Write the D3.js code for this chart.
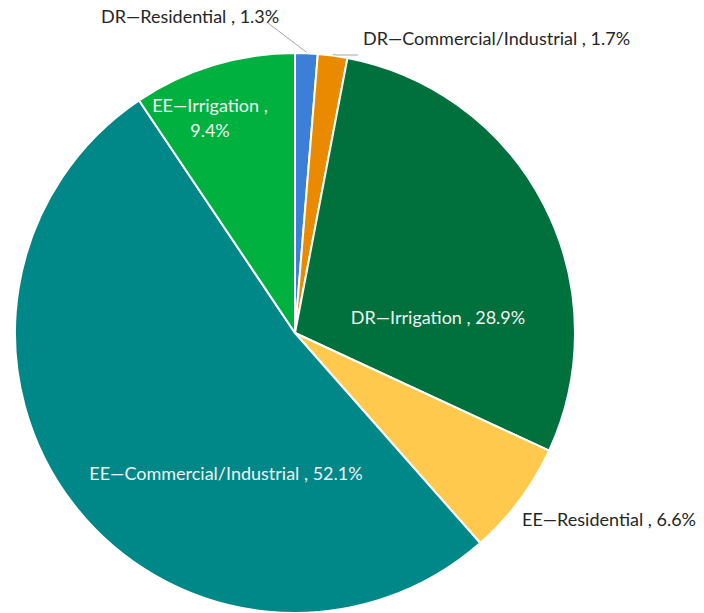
<!DOCTYPE html>
<html>
<head>
<meta charset="utf-8">
<script src="https://cdn.jsdelivr.net/npm/d3@7"></script>
<style>
  body { margin: 0; background: #fff; }
  svg { display: block; font-family: Lato, "Open Sans", sans-serif; }
</style>
</head>
<body>
<div id="chart"></div>
<script>
let width = 704, height = 613;

// data
const categories = [
  "DR\u2014Residential",
  "DR\u2014Commercial/Industrial",
  "DR\u2014Irrigation",
  "EE\u2014Residential",
  "EE\u2014Commercial/Industrial",
  "EE\u2014Irrigation",
];
const shares = [1.3, 1.7, 28.9, 6.6, 52.1, 9.4];
const colors = ["#3d7ed9", "#ea8a00", "#00703c", "#fec94c", "#008788", "#00b140"];

// label layout (x, y of text centre, anchor, text colour, wrap)
const labelLayout = [
  { x: 101, y: 17, anchor: "start", fill: "#262626", lines: 1 },
  { x: 363, y: 39, anchor: "start", fill: "#262626", lines: 1 },
  { x: 438, y: 318, anchor: "middle", fill: "#f2f2f2", lines: 1 },
  { x: 522, y: 520, anchor: "start", fill: "#262626", lines: 1 },
  { x: 226, y: 474, anchor: "middle", fill: "#f2f2f2", lines: 1 },
  { x: 210, y: 118, anchor: "middle", fill: "#f2f2f2", lines: 2 },
];

const cx = 295, cy = 333, radius = 280;

const data = categories.map((c, i) => ({ name: c, value: shares[i], color: colors[i] }));

const svg = d3
  .select("#chart")
  .append("svg")
  .attr("width", width)
  .attr("height", height);

const pie = d3.pie().sort(null).value((d) => d.value);
const arc = d3.arc().innerRadius(0).outerRadius(radius);
const arcs = pie(data);

const g = svg.append("g").attr("transform", `translate(${cx},${cy})`);

g.selectAll("path")
  .data(arcs)
  .join("path")
  .attr("d", arc)
  .attr("fill", (d) => d.data.color)
  .attr("stroke", "#fff")
  .attr("stroke-width", 2)
  .attr("stroke-linejoin", "round");

// leader lines for the two thin slices
const leaderArc = d3.arc().innerRadius(radius + 1).outerRadius(radius + 1);
const p0 = leaderArc.centroid(arcs[0]);
svg.append("polyline")
  .attr("points", [[268, 23], [cx + p0[0], cy + p0[1]]].join(" "))
  .attr("fill", "none")
  .attr("stroke", "#a6a6a6")
  .attr("stroke-width", 1);

const p1 = leaderArc.centroid(arcs[1]);
svg.append("polyline")
  .attr("points", [[cx + p1[0], cy + p1[1]], [cx + p1[0] + 4, 55], [358, 55]].join(" "))
  .attr("fill", "none")
  .attr("stroke", "#a6a6a6")
  .attr("stroke-width", 1);

// labels
const fmt = (v) => d3.format(".1f")(v) + "%";
arcs.forEach((a, i) => {
  const l = labelLayout[i];
  const t = svg.append("text")
    .attr("x", l.x)
    .attr("y", l.y)
    .attr("text-anchor", l.anchor)
    .attr("fill", l.fill)
    .style("font-size", "18px");
  if (l.lines === 2) {
    t.append("tspan").attr("x", l.x).attr("dy", "-0.35em").text(a.data.name + " ,");
    t.append("tspan").attr("x", l.x).attr("dy", "1.4em").text(fmt(a.data.value));
  } else {
    t.attr("dy", "0.35em").text(a.data.name + " , " + fmt(a.data.value));
  }
});
</script>
</body>
</html>
